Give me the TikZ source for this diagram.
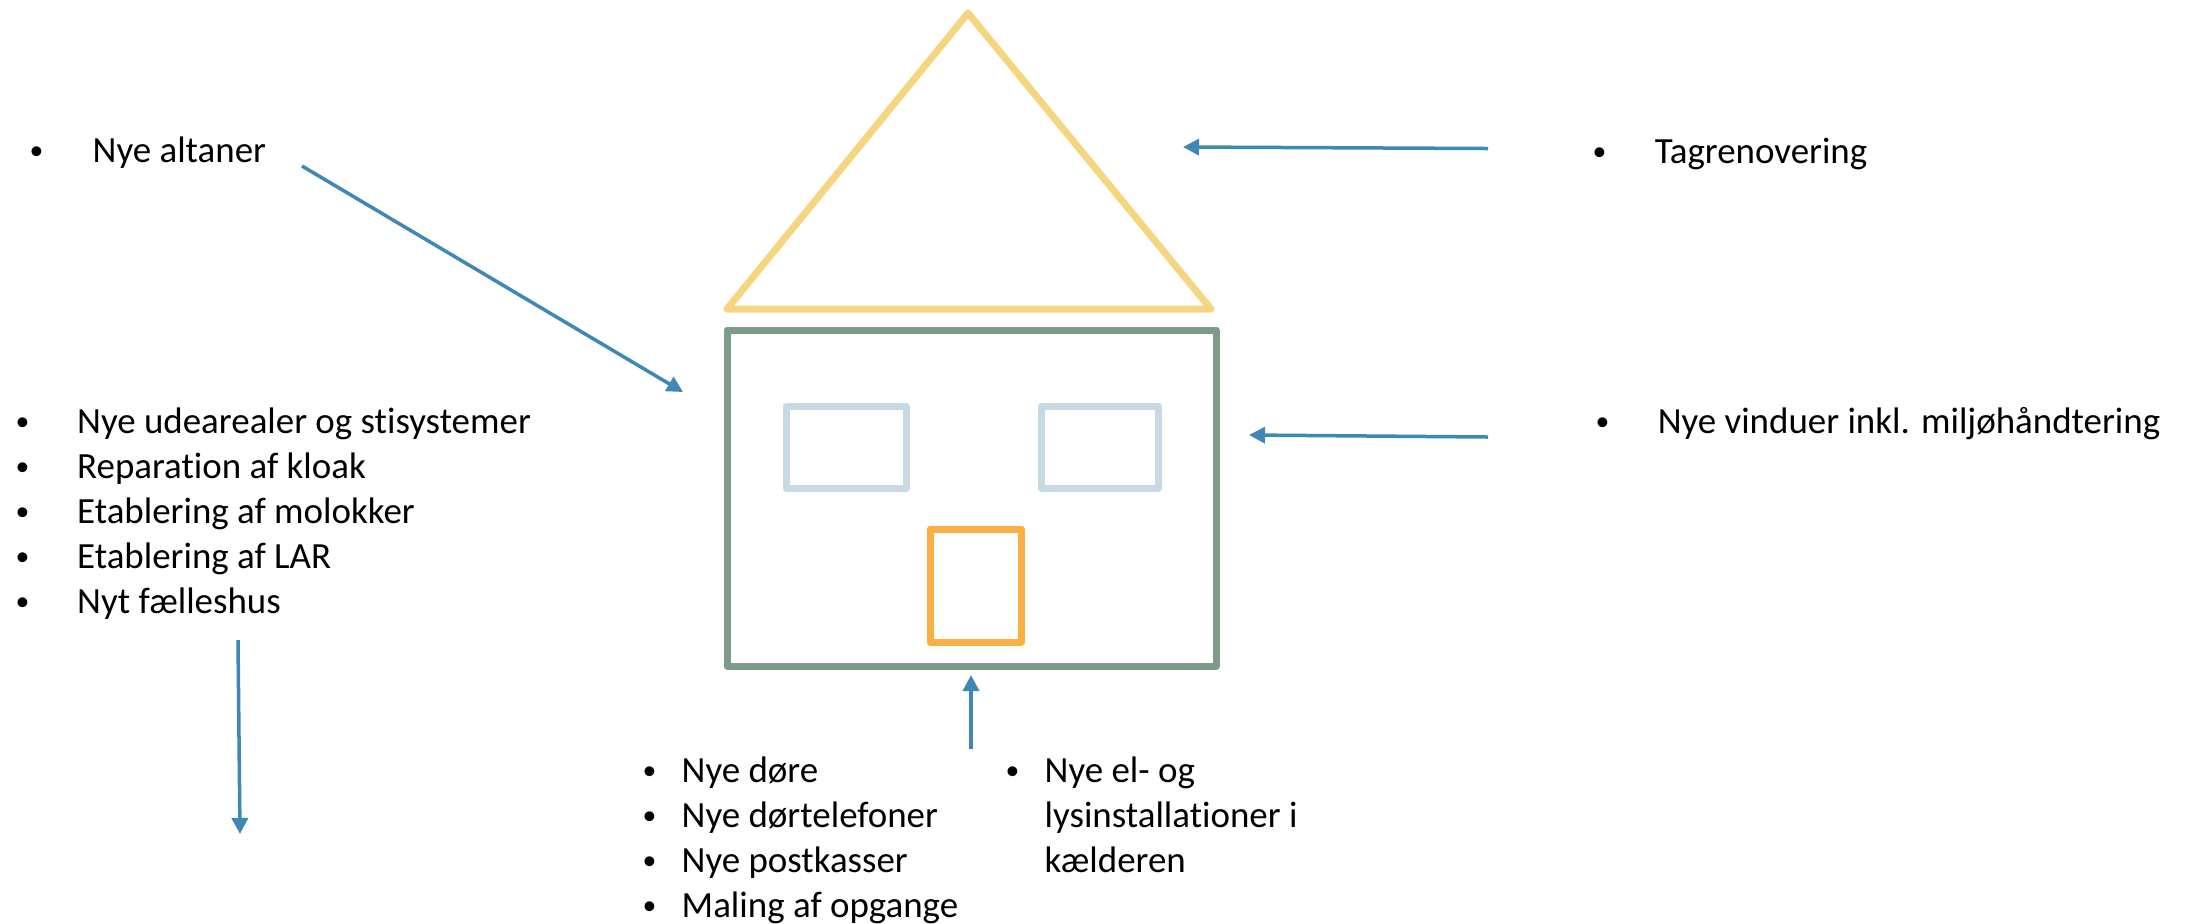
\documentclass[tikz,border=0pt]{standalone}
\usepackage{fontspec}
\setmainfont[RawFeature={-liga;-clig;-calt}]{Carlito}
\usetikzlibrary{arrows.meta}
\definecolor{tagfarve}{HTML}{F5D580}
\definecolor{murfarve}{HTML}{7E9A88}
\definecolor{vinduefarve}{HTML}{C9D9E3}
\definecolor{doerfarve}{HTML}{F9AF42}
\definecolor{pilfarve}{HTML}{3F88B5}
\newcommand\pkt{\hspace{0.02cm}\raisebox{0.08em}{\scalebox{0.75}{\textbullet}}}
\newcommand\liste[2]{\begin{tabular}[t]{@{}p{#1}@{}l@{}}#2\end{tabular}}

\begin{document}
\begin{tikzpicture}[%
      x=0.01cm, y=-0.01cm,
      every node/.style={inner sep=0pt, anchor=base west, font=\fontsize{10.5}{12.8}\selectfont},
      hus/.style={line width=0.07cm, line join=round, line cap=round},
      >={Triangle[length=0.16cm,width=0.16cm]}
    ]
    \useasboundingbox (0,0) rectangle (2190,923);
    % huset
    \draw [hus, tagfarve] (968,13) -- (1211,309) -- (727,309) -- cycle;
    \draw [hus, murfarve] (727,330) rectangle (1216,666);
    \draw [hus, vinduefarve] (786,406) rectangle (906,488);
    \draw [hus, vinduefarve] (1041,406) rectangle (1158,488);
    \draw [hus, doerfarve] (930,529) rectangle (1021,642);
    % tekster
    \node (altan) at (27,162) {\liste{0.65cm}{\pkt & Nye altaner}};
    \node (ude) at (13,433) {\liste{0.635cm}{\pkt & Nye udearealer og stisystemer\\
      \pkt & Reparation af kloak\\
      \pkt & Etablering af molokker\\
      \pkt & Etablering af LAR\\
      \pkt & Nyt fælleshus}};
    \node (tag) at (1590,163) {\liste{0.64cm}{\pkt & Tagrenovering}};
    \node (vindue) at (1593,433) {\liste{0.64cm}{\pkt & Nye vinduer inkl. miljøhåndtering}};
    \node (doer) at (640,782) {\liste{0.41cm}{\pkt & Nye døre\\
      \pkt & Nye dørtelefoner\\
      \pkt & Nye postkasser\\
      \pkt & Maling af opgange}};
    \node (el) at (1003,782) {\liste{0.41cm}{\pkt & Nye el- og\\
      & lysinstallationer i\\
      & kælderen}};
    % pile
    \coordinate (a1) at (302,166);
    \coordinate (a2) at (683,392);
    \coordinate (t1) at (1488,148.5);
    \coordinate (t2) at (1183,147);
    \coordinate (v1) at (1488,437);
    \coordinate (v2) at (1249,435);
    \coordinate (d1) at (971,749);
    \coordinate (d2) at (971,675);
    \coordinate (u1) at (238,640);
    \coordinate (u2) at (240,834);
    \path [draw, pilfarve, line width=0.035cm] (a1) edge[->] (a2)
    (t1) edge[->] (t2)
    (v1) edge[->] (v2)
    (d1) edge[->] (d2)
    (u1) edge[->] (u2)
    ;
  \end{tikzpicture}
\end{document}
